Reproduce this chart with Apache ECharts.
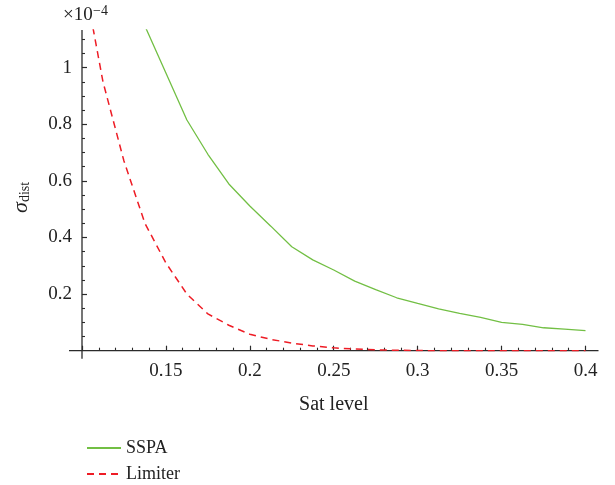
<!DOCTYPE html>
<html>
<head>
<meta charset="utf-8">
<script src="https://cdn.jsdelivr.net/npm/echarts@6/dist/echarts.min.js"></script>
<style>
html,body{margin:0;padding:0;background:#fff;}
#c{width:615px;height:485px;}
</style>
</head>
<body>
<div id="c"></div>
<script>
// Sat level samples (x)
const satLevels = [0.1, 0.1125, 0.125, 0.1375, 0.15, 0.1625, 0.175, 0.1875, 0.2, 0.2125, 0.225, 0.2375, 0.25,
  0.2625, 0.275, 0.2875, 0.3, 0.3125, 0.325, 0.3375, 0.35, 0.3625, 0.375, 0.3875, 0.4];
// sigma_dist (x 1e-4)
const sspaValues = [null, null, null, 1.147, 0.981, 0.815, 0.694, 0.589, 0.511, 0.44, 0.367, 0.321, 0.285,
  0.246, 0.216, 0.187, 0.167, 0.148, 0.132, 0.118, 0.100, 0.093, 0.081, 0.076, 0.071];
const limiterValues = [1.35, 0.95, 0.67, 0.45, 0.31, 0.20, 0.13, 0.09, 0.058, 0.04, 0.027, 0.017, 0.01,
  0.006, 0.003, 0.0015, 0.0005, 0, 0, 0, 0, 0, 0, 0, 0];
const seriesNames = ['SSPA', 'Limiter'];
const yMajorTicks = [0.2, 0.4, 0.6, 0.8, 1.0];
const yMinorTicks = [0.05, 0.1, 0.15, 0.25, 0.3, 0.35, 0.45, 0.5, 0.55, 0.65, 0.7, 0.75, 0.85, 0.9, 0.95, 1.05, 1.1];
const xMin = 0.1, xMax = 0.4, yMin = 0, yMax = 1.133;

const FONT = "'Liberation Serif', 'DejaVu Serif', serif";
const AXC = '#2b2b2b';

const chart = echarts.init(document.getElementById('c'));
const pair = (vals) => satLevels.map((x, i) => [x, vals[i]]);

chart.setOption({
  animation: false,
  backgroundColor: '#fff',
  grid: { left: 82, right: 29.5, top: 30, bottom: 134.3, containLabel: false, outerBoundsMode: 'none' },
  xAxis: {
    type: 'value', min: xMin, max: xMax, interval: 0.05,
    name: 'Sat level', nameLocation: 'middle', nameGap: 44,
    nameTextStyle: { fontFamily: FONT, fontSize: 20, color: '#222' },
    axisLine: { show: false },
    axisTick: { show: true, inside: true, length: 5, lineStyle: { color: AXC, width: 1.2 } },
    minorTick: { show: true, splitNumber: 5, length: 3, lineStyle: { color: AXC, width: 1.1 } },
    splitLine: { show: false },
    axisLabel: { showMinLabel: false, showMaxLabel: true, margin: 11, fontFamily: FONT, fontSize: 19, color: '#222',
      formatter: v => String(+v.toFixed(2)) }
  },
  yAxis: [{
    type: 'value', min: yMin, max: yMax, position: 'left',
    name: '{s|σ}{d|dist}', nameLocation: 'middle', nameGap: 50,
    nameTextStyle: { padding: [0, 14, 0, 0], rich: {
      s: { fontFamily: FONT, fontStyle: 'italic', fontSize: 22, color: '#222' },
      d: { fontFamily: FONT, fontSize: 14, color: '#222', verticalAlign: 'bottom', padding: [8, 0, 0, 0] }
    } },
    axisLine: { show: false },
    axisTick: { show: true, inside: true, length: 5, customValues: yMajorTicks, lineStyle: { color: AXC, width: 1.2 } },
    splitLine: { show: false },
    axisLabel: { customValues: yMajorTicks, margin: 10, fontFamily: FONT, fontSize: 19, color: '#222',
      formatter: v => String(+v.toFixed(2)) }
  }, {
    type: 'value', min: yMin, max: yMax, position: 'left', offset: 0,
    axisLine: { show: false },
    axisTick: { show: true, inside: true, length: 3, customValues: yMinorTicks, lineStyle: { color: AXC, width: 1.1 } },
    axisLabel: { show: false },
    splitLine: { show: false }
  }],
  legend: {
    data: seriesNames, orient: 'vertical', left: 81, bottom: -3, height: 80,
    itemWidth: 34, itemHeight: 14, itemGap: 8,
    itemStyle: { opacity: 0 },
    textStyle: { fontFamily: FONT, fontSize: 18, color: '#222' }
  },
  series: [{
    name: seriesNames[0], type: 'line', data: pair(sspaValues), symbol: 'none', clip: true,
    lineStyle: { color: '#72bf44', width: 1.3 }, itemStyle: { color: '#72bf44' }, z: 3
  }, {
    name: seriesNames[1], type: 'line', data: pair(limiterValues), symbol: 'none', clip: true,
    lineStyle: { color: '#ee1c25', width: 1.5, type: [7, 5] }, itemStyle: { color: '#ee1c25' }, z: 4
  }]
});

const p0 = chart.convertToPixel({ gridIndex: 0 }, [xMin, yMin]);
const p1 = chart.convertToPixel({ gridIndex: 0 }, [xMax, yMax]);
chart.setOption({
  graphic: [
    { type: 'line', z: 1, shape: { x1: p0[0] - 13, y1: p0[1], x2: p1[0] + 13, y2: p0[1] },
      style: { stroke: AXC, lineWidth: 1.3 } },
    { type: 'line', z: 1, shape: { x1: p0[0], y1: p1[1], x2: p0[0], y2: p0[1] + 8 },
      style: { stroke: AXC, lineWidth: 1.3 } },
    { type: 'text', x: 63, y: 15, style: { text: '×10', font: '19px ' + FONT, fill: '#222', verticalAlign: 'middle' } },
    { type: 'text', x: 93, y: 11, style: { text: '−4', font: '14px ' + FONT, fill: '#222', verticalAlign: 'middle' } }
  ]
});
</script>
</body>
</html>
